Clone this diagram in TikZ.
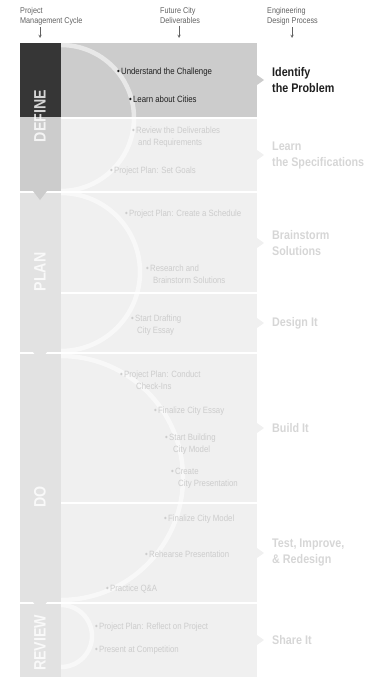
\documentclass[tikz,border=0pt]{standalone}
\usepackage{fontspec}
\setmainfont{Liberation Sans}[FakeStretch=0.86]
\usetikzlibrary{arrows,positioning}
\newcommand{\bul}{\textbullet\hspace{1.2pt}}
\newcommand{\ind}[1]{\hspace*{#1}}

\begin{document}
\begin{tikzpicture}[x=1pt,y=-1pt,
  item/.style={anchor=west,inner sep=0pt,align=left,text=cfaint,font=\fontsize{9.1}{12}\selectfont},
  itemdark/.style={item,text=ctext},
  title/.style={anchor=west,inner sep=0pt,align=left,text=ctitle,font=\fontsize{12.5}{16}\selectfont\bfseries},
  phase/.style={rotate=90,inner sep=0pt,text=white,text opacity=0.8,font=\fontsize{16.5}{17}\selectfont\bfseries},
  head/.style={anchor=north west,inner sep=0pt,align=left,text=chead,font=\fontsize{8.4}{10}\selectfont},
  hdarrow/.style={->,>=stealth,draw=chead,line width=0.5pt,shorten <=2pt},
  loop/.style={draw=white,draw opacity=0.55,line width=4.5pt}]
%
\useasboundingbox (0,0) rectangle (377,677);
%
\definecolor{cdark}{rgb}{0.21,0.21,0.21}
\definecolor{cmid}{rgb}{0.80,0.80,0.80}
\definecolor{clight}{rgb}{0.94,0.94,0.94}
\definecolor{ccol}{rgb}{0.885,0.885,0.885}
\definecolor{cfaint}{rgb}{0.80,0.80,0.80}
\definecolor{ctext}{rgb}{0.12,0.12,0.12}
\definecolor{ctitle}{rgb}{0.84,0.84,0.84}
\definecolor{chead}{rgb}{0.38,0.38,0.38}
%
% headers
\node[head] (h1) at (20,7) {Project\\Management Cycle};
\node[head] (h2) at (160,7) {Future City\\Deliverables};
\node[head] (h3) at (267,7) {Engineering\\Design Process};
\coordinate (a1) at (40,38);
\coordinate (a2) at (179,38);
\coordinate (a3) at (292,38);
\draw[hdarrow] (h1.south -| a1) -- (a1);
\draw[hdarrow] (h2.south -| a2) -- (a2);
\draw[hdarrow] (h3.south -| a3) -- (a3);
%
% rows
\fill[cmid] (61,43) rectangle (257,117);
\fill[clight] (61,119) rectangle (257,191);
\fill[clight] (61,193) rectangle (257,292);
\fill[clight] (61,294) rectangle (257,352);
\fill[clight] (61,354) rectangle (257,502);
\fill[clight] (61,504) rectangle (257,602);
\fill[clight] (61,604) rectangle (257,677);
%
% pointers
\fill[cmid] (257,75) -- (264,80) -- (257,85) -- cycle;
\fill[clight] (257,150) -- (264,155) -- (257,160) -- cycle;
\fill[clight] (257,238) -- (264,243) -- (257,248) -- cycle;
\fill[clight] (257,318) -- (264,323) -- (257,328) -- cycle;
\fill[clight] (257,423) -- (264,428) -- (257,433) -- cycle;
\fill[clight] (257,548) -- (264,553) -- (257,558) -- cycle;
\fill[clight] (257,635) -- (264,640) -- (257,645) -- cycle;
%
% loops
\begin{scope}
\clip (61,43) rectangle (257,677);
\draw[loop] (61,45) arc[start angle=90,end angle=-90,radius=73pt];
\draw[loop] (61,193) arc[start angle=90,end angle=-90,radius=79pt];
\draw[loop] (61,356) arc[start angle=90,end angle=-90,radius=122pt];
\draw[loop] (61,605) arc[start angle=90,end angle=-90,radius=31pt];
\end{scope}
%
% phase column
\fill[cdark] (20,43) rectangle (61,117);
\fill[cmid] (20,117) rectangle (61,191);
\fill[ccol] (20,193) rectangle (61,352);
\fill[ccol] (20,354) rectangle (61,602);
\fill[ccol] (20,604) rectangle (61,677);
\fill[cmid] (33,191) -- (40,200) -- (47,191) -- cycle;
\fill[ccol] (33,352) -- (40,361) -- (47,352) -- cycle;
\fill[ccol] (33,602) -- (40,611) -- (47,602) -- cycle;
\node[phase] (p1) at (40,116) {DEFINE};
\node[phase] (p2) at (40,272) {PLAN};
\node[phase] (p3) at (40,497) {DO};
\node[phase] (p4) at (40,643) {REVIEW};
%
% deliverables
\node[itemdark] (u1) at (117,72) {\bul Understand the Challenge};
\node[itemdark] (u2) at (129,99) {\bul Learn about Cities};
\node[item] (v1) at (132,137) {\bul Review the Deliverables\\\ind{6pt}and Requirements};
\node[item] (v2) at (110,171) {\bul Project Plan: Set Goals};
\node[item] (w1) at (125,214) {\bul Project Plan: Create a Schedule};
\node[item] (w2) at (146,274) {\bul Research and\\\ind{7pt}Brainstorm Solutions};
\node[item] (x1) at (131,325) {\bul Start Drafting\\\ind{6pt}City Essay};
\node[item] (y1) at (120,380) {\bul Project Plan: Conduct\\\ind{16pt}Check-Ins};
\node[item] (y2) at (154,411) {\bul Finalize City Essay};
\node[item] (y3) at (165,444) {\bul Start Building\\\ind{8pt}City Model};
\node[item] (y4) at (171,478) {\bul Create\\\ind{7pt}City Presentation};
\node[item] (z1) at (164,519) {\bul Finalize City Model};
\node[item] (z2) at (145,554) {\bul Rehearse Presentation};
\node[item] (z3) at (106,589) {\bul Practice Q\&A};
\node[item] (q1) at (95,627) {\bul Project Plan: Reflect on Project};
\node[item] (q2) at (95,650) {\bul Present at Competition};
%
% design process
\node[title,text=ctext] (t1) at (272,80) {Identify\\the Problem};
\node[title] (t2) at (272,155) {Learn\\the Specifications};
\node[title] (t3) at (272,243) {Brainstorm\\Solutions};
\node[title] (t4) at (272,323) {Design It};
\node[title] (t5) at (272,428) {Build It};
\node[title] (t6) at (272,553) {Test, Improve,\\\& Redesign};
\node[title] (t7) at (272,640) {Share It};
%
\end{tikzpicture}
\end{document}
